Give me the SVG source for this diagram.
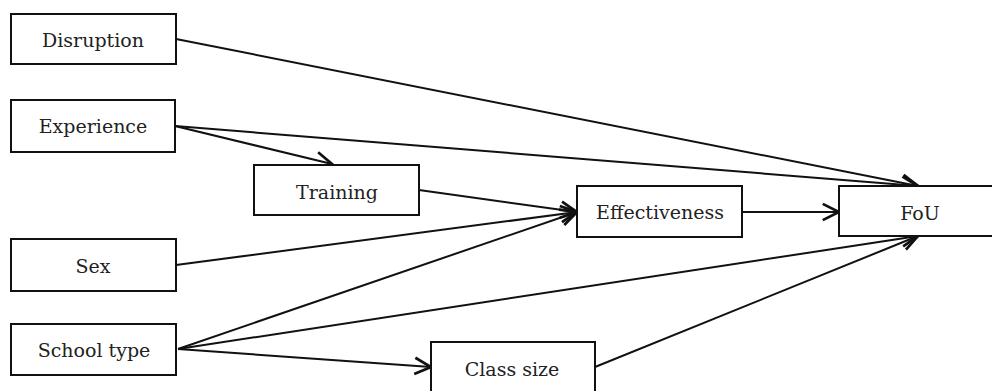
<svg xmlns="http://www.w3.org/2000/svg" width="992" height="391" viewBox="0 0 992 391">
<style>
.box{fill:#fff;stroke:#111;stroke-width:2}
.lbl{font-family:"DejaVu Serif","Liberation Serif",serif;font-size:19px;fill:#222;text-anchor:middle}
.edge{stroke:#111;stroke-width:2;fill:none;marker-end:url(#arr)}
</style>
<defs>
<marker id="arr" markerUnits="userSpaceOnUse" markerWidth="20" markerHeight="20" viewBox="-14 -8 16 16" refX="0" refY="0" orient="auto">
<path d="M-13,-6.5 L0,0 L-13,6.5" fill="none" stroke="#111" stroke-width="2.2"/>
</marker>
</defs>
<rect width="992" height="391" fill="#fff"/>
<g id="connectors">
<line class="edge" x1="176" y1="39" x2="918" y2="186"/>
<line class="edge" x1="175" y1="126" x2="918" y2="186"/>
<line class="edge" x1="175" y1="126" x2="332" y2="164"/>
<line class="edge" x1="419" y1="190" x2="577" y2="212"/>
<line class="edge" x1="176" y1="265" x2="577" y2="212"/>
<line class="edge" x1="178" y1="349" x2="577" y2="212"/>
<line class="edge" x1="178" y1="349" x2="918" y2="236"/>
<line class="edge" x1="178" y1="349" x2="431" y2="367"/>
<line class="edge" x1="595" y1="367" x2="918" y2="236"/>
<line class="edge" x1="742" y1="212" x2="839" y2="212"/>
</g>
<g id="disruption"><rect class="box" x="11" y="14" width="165" height="50"/><text class="lbl" x="93" y="47">Disruption</text></g>
<g id="experience"><rect class="box" x="11" y="100" width="164" height="52"/><text class="lbl" x="93" y="133">Experience</text></g>
<g id="training"><rect class="box" x="254" y="165" width="165" height="50"/><text class="lbl" x="337" y="199">Training</text></g>
<g id="sex"><rect class="box" x="11" y="239" width="165" height="52"/><text class="lbl" x="93" y="273">Sex</text></g>
<g id="school-type"><rect class="box" x="11" y="324" width="165" height="51"/><text class="lbl" x="94" y="357">School type</text></g>
<g id="class-size"><rect class="box" x="431" y="342" width="164" height="60"/><text class="lbl" x="512" y="376">Class size</text></g>
<g id="effectiveness"><rect class="box" x="577" y="186" width="165" height="51"/><text class="lbl" x="660" y="219">Effectiveness</text></g>
<g id="fou"><rect class="box" x="839" y="186" width="165" height="50"/><text class="lbl" x="920" y="220">FoU</text></g>
</svg>
